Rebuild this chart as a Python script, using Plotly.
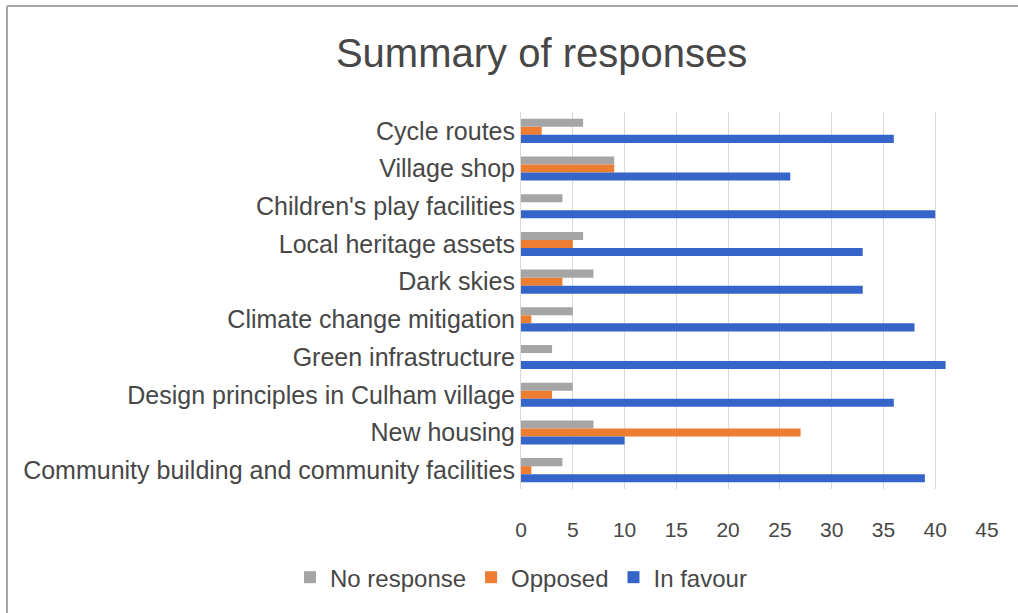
import plotly.graph_objects as go

categories = [
    "Cycle routes",
    "Village shop",
    "Children's play facilities",
    "Local heritage assets",
    "Dark skies",
    "Climate change mitigation",
    "Green infrastructure",
    "Design principles in Culham village",
    "New housing",
    "Community building and community facilities",
]
no_response = [6, 9, 4, 6, 7, 5, 3, 5, 7, 4]
opposed = [2, 9, 0, 5, 4, 1, 0, 3, 27, 1]
in_favour = [36, 26, 40, 33, 33, 38, 41, 36, 10, 39]
x_ticks = [0, 5, 10, 15, 20, 25, 30, 35, 40, 45]

series = [
    ("No response", no_response, "#A5A5A5"),
    ("Opposed", opposed, "#ED7D31"),
    ("In favour", in_favour, "#3565C8"),
]

fig = go.Figure()
for name, vals, color in series:
    fig.add_trace(go.Bar(
        y=categories, x=vals, name=name, orientation="h",
        marker=dict(color=color, line=dict(width=0)),
    ))

text_color = "#474747"
fig.update_layout(
    width=1018, height=613,
    margin=dict(l=521, r=31, t=112, b=124),
    paper_bgcolor="white", plot_bgcolor="white",
    font=dict(family="Liberation Sans, Arial, sans-serif", color=text_color),
    barmode="group", bargap=0.36, bargroupgap=0,
    title=dict(text="Summary of responses", x=0.532, xref="container",
               y=1 - 53 / 613, yref="container", xanchor="center", yanchor="middle",
               font=dict(size=40, color=text_color)),
    xaxis=dict(range=[0, 45], tickvals=x_ticks, showgrid=True, gridcolor="#D9D9D9",
               gridwidth=1, zeroline=False, ticks="outside", ticklen=22,
               tickcolor="rgba(0,0,0,0)", tickfont=dict(size=21, color=text_color)),
    yaxis=dict(autorange="reversed", showgrid=False, showline=True, linecolor="#D9D9D9",
               ticks="", tickfont=dict(size=25, color=text_color), ticklabelstandoff=0),
    legend=dict(orientation="h", x=0.0, xanchor="center", y=-0.235, yanchor="middle",
                font=dict(size=24, color=text_color), itemwidth=30),
    showlegend=True,
)

# chart frame (top and left border of the chart area)
fig.add_shape(type="line", xref="paper", yref="paper",
              x0=(7 - 521) / 466, x1=(1018 - 521) / 466,
              y0=(489 - 6) / 377, y1=(489 - 6) / 377,
              line=dict(color="#A8A8A8", width=2))
fig.add_shape(type="line", xref="paper", yref="paper",
              x0=(7 - 521) / 466, x1=(7 - 521) / 466,
              y0=(489 - 6) / 377, y1=(489 - 613) / 377,
              line=dict(color="#A8A8A8", width=2))

fig.write_html("out.html")
